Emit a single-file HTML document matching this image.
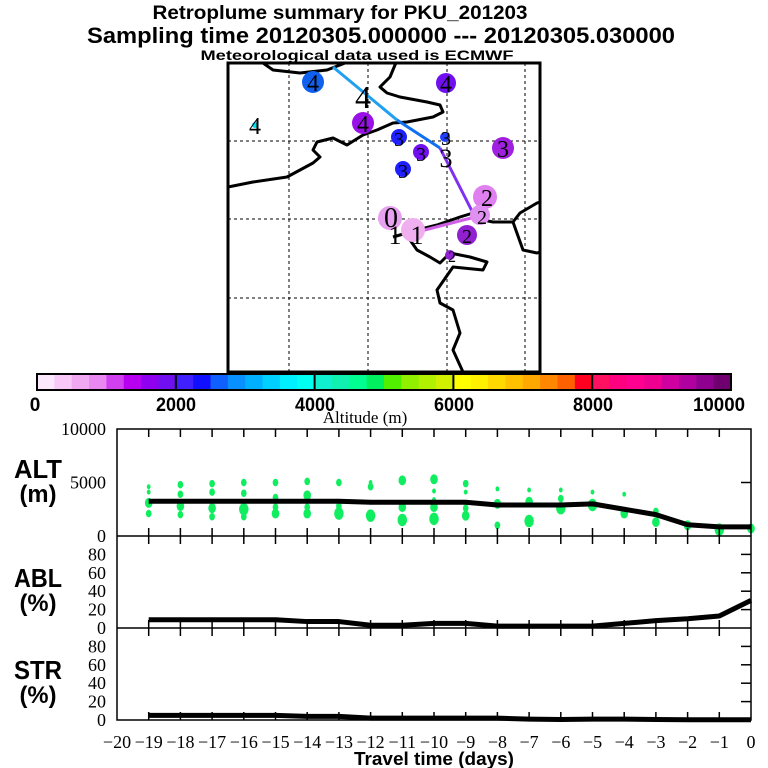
<!DOCTYPE html>
<html><head><meta charset="utf-8"><style>
html,body{margin:0;padding:0;background:#fff;}
svg{display:block;}
.t{font-family:"Liberation Sans",sans-serif;font-weight:bold;}
.s{font-family:"Liberation Serif",serif;}
</style></head><body>
<svg id="chart" width="768" height="768" viewBox="0 0 768 768" xmlns="http://www.w3.org/2000/svg">
<text class="t" x="340" y="19" font-size="19" text-anchor="middle" textLength="375" lengthAdjust="spacingAndGlyphs">Retroplume summary for PKU_201203</text>
<text class="t" x="381" y="43" font-size="22" text-anchor="middle" textLength="588" lengthAdjust="spacingAndGlyphs">Sampling time   20120305.000000 --- 20120305.030000</text>
<text class="t" x="357" y="60" font-size="14" text-anchor="middle" textLength="313" lengthAdjust="spacingAndGlyphs">Meteorological data used is ECMWF</text>

<g id="map">
<g stroke="#000" stroke-width="1" stroke-dasharray="3,3">
<line x1="289" y1="63" x2="289" y2="372"/><line x1="368" y1="63" x2="368" y2="372"/><line x1="447" y1="63" x2="447" y2="372"/><line x1="525" y1="63" x2="525" y2="372"/>
<line x1="228" y1="141" x2="540" y2="141"/><line x1="228" y1="219" x2="540" y2="219"/><line x1="228" y1="298" x2="540" y2="298"/>
</g>
<g fill="none" stroke="#000" stroke-width="3" stroke-linejoin="round">
<polyline points="263,63 273,70 300,73 327,70 340,65 345,63"/>
<polyline points="228,187 253,182 287,177 300,170 313,163 320,157 313,150 317,142 333,138 347,145 363,135 377,130 393,123 407,122 433,117 443,112 440,105 427,102 400,97 387,93 380,87 390,77 395,65 396,63"/>
<polyline points="393,237 417,230 437,225 460,217 473,213 483,220 493,222 513,222 520,213 537,203 540,202"/>
<polyline points="410,240 417,250 430,257 440,263 450,253 470,257 487,262 483,270 453,267 437,290 440,303 453,310 460,333 453,350 463,372"/>
<polyline points="513,222 523,250 537,253 540,252"/>
</g>
<g stroke-width="3" fill="none">
<line x1="333" y1="67" x2="397" y2="120" stroke="#20a0f0"/>
<line x1="397" y1="120" x2="440" y2="148" stroke="#1070f0"/>
<line x1="440" y1="148" x2="475" y2="217" stroke="#8030f0"/>
<line x1="475" y1="217" x2="413" y2="233" stroke="#d060e8"/>
</g>
<g>
<circle cx="313" cy="82" r="11" fill="#1060f0"/><circle cx="446" cy="83" r="10" fill="#7010f0"/>
<circle cx="363" cy="123" r="11" fill="#9a10e8"/><circle cx="503" cy="148" r="11" fill="#a020e0"/>
<circle cx="399" cy="137" r="8" fill="#2020ff"/><circle cx="421" cy="152" r="8" fill="#7010f0"/>
<circle cx="403" cy="169" r="8" fill="#2020ff"/><circle cx="445" cy="137" r="5" fill="#2040ff"/>
<circle cx="485" cy="197" r="12" fill="#e080f0"/><circle cx="480" cy="215" r="10" fill="#e090f0"/>
<circle cx="467" cy="235" r="10" fill="#9020d0"/><circle cx="390" cy="218" r="12" fill="#e8a0f0"/>
<circle cx="413" cy="230" r="12" fill="#f0b0f0"/><circle cx="450" cy="255" r="5" fill="#9020d0"/>
<circle cx="255" cy="125" r="3" fill="#00e0f0"/>
</g>
<g class="s" font-size="24" fill="#000" text-anchor="middle">
<text x="313" y="91">4</text><text x="446" y="92">4</text><text x="363" y="132">4</text><text x="363" y="108" font-size="32">4</text><text x="255" y="134">4</text>
<text x="399" y="146" font-size="20">3</text><text x="421" y="161" font-size="20">3</text><text x="403" y="178" font-size="20">3</text><text x="503" y="157">3</text>
<text x="446" y="145" font-size="20">3</text><text x="446" y="167" font-size="26">3</text>
<text x="487" y="206">2</text><text x="482" y="224" font-size="20">2</text><text x="467" y="243" font-size="20">2</text><text x="452" y="262" font-size="16">2</text>
<text x="391" y="227" font-size="28">0</text><text x="395" y="244" font-size="26">1</text><text x="417" y="244" font-size="26">1</text>
</g>
<rect x="228" y="63" width="312" height="309" fill="none" stroke="#000" stroke-width="3"/>
</g>

<g id="colorbar"></g>
<g class="t" font-size="19" text-anchor="middle">
<text x="35" y="411">0</text><text x="176" y="411" textLength="40" lengthAdjust="spacingAndGlyphs">2000</text><text x="315" y="411" textLength="40" lengthAdjust="spacingAndGlyphs">4000</text><text x="454" y="411" textLength="40" lengthAdjust="spacingAndGlyphs">6000</text><text x="593" y="411" textLength="40" lengthAdjust="spacingAndGlyphs">8000</text><text x="719" y="411" textLength="52" lengthAdjust="spacingAndGlyphs">10000</text>
</g>
<text class="s" x="365" y="423" font-size="17" text-anchor="middle">Altitude (m)</text>

<g id="panels"></g>

<text class="t" x="38" y="478" font-size="26" text-anchor="middle" textLength="48" lengthAdjust="spacingAndGlyphs">ALT</text>
<text class="t" x="38" y="502" font-size="24" text-anchor="middle" textLength="37" lengthAdjust="spacingAndGlyphs">(m)</text>
<text class="t" x="38" y="587" font-size="26" text-anchor="middle" textLength="48" lengthAdjust="spacingAndGlyphs">ABL</text>
<text class="t" x="38" y="611" font-size="24" text-anchor="middle" textLength="37" lengthAdjust="spacingAndGlyphs">(%)</text>
<text class="t" x="38" y="679" font-size="26" text-anchor="middle" textLength="48" lengthAdjust="spacingAndGlyphs">STR</text>
<text class="t" x="38" y="703" font-size="24" text-anchor="middle" textLength="37" lengthAdjust="spacingAndGlyphs">(%)</text>
<text class="t" x="434" y="765" font-size="18" text-anchor="middle" textLength="160" lengthAdjust="spacingAndGlyphs">Travel time (days)</text>
</svg>
<script>
const cbColors=["#fce8fc","#f8c8f8","#f0a8f0","#e888f0","#d040f0","#b800f0","#9000f0","#7010f0",
"#4020ff","#1010ff","#1060ff","#0890ff","#00b0ff","#00d0ff","#00f0ff","#00fff0",
"#10f0d0","#10f0b0","#00ff90","#00f060","#50f000","#90f000","#b0f000","#d0f000",
"#ffff00","#fff000","#ffd800","#ffc000","#ffa800","#ff8800","#ff6000","#ff0020",
"#ff1060","#ff0080","#ff0090","#f00090","#d000a0","#b000a0","#900090","#700070"];
const days=[-19,-18,-17,-16,-15,-14,-13,-12,-11,-10,-9,-8,-7,-6,-5,-4,-3,-2,-1,0];
const altMean=[3250,3250,3250,3250,3250,3250,3250,3150,3150,3150,3150,2900,2900,2900,3000,2500,2000,1050,850,850];
const ablPct=[9,9,9,9,9,7,7,3,3,5,5,2,2,2,2,5,8,10,13,30];
const strPct=[5,5,5,5,5,4,4,2,2,2,2,2,1,0.5,1,1,0.5,0.3,0.3,0.3];
const dotDay=[-19,-19,-19,-19,-18,-18,-18,-18,-17,-17,-17,-17,-16,-16,-16,-16,-15,-15,-15,-15,-14,-14,-14,-14,-13,-13,-13,-12,-12,-12,-11,-11,-11,-10,-10,-10,-10,-10,-9,-9,-9,-9,-8,-8,-8,-7,-7,-7,-6,-6,-6,-5,-5,-4,-4,-3,-3,-2,-1,0];
const dotAlt=[4600,4100,3100,2100,4800,3900,2800,2000,4900,4100,2600,1800,5000,4000,2500,1800,5000,3600,2700,2100,5100,3800,2700,2100,5000,2800,2100,5000,4600,1900,5200,2700,1500,5300,4200,3400,2700,1600,4900,4100,2600,1900,4400,3000,1000,4300,3200,1400,4300,3500,2600,4100,2900,3900,2100,2300,1300,1000,600,700];
const dotSize=[2,2,4,3,3,3,4,3,3,3,4,3,3,3,5,3,3,3,3,4,3,4,3,4,3,3,5,2,3,5,4,4,5,4,2,2,4,5,3,2,3,4,2,4,3,2,4,5,2,3,5,2,5,2,4,3,4,4,5,4];
const yTicksPct=[0,20,40,60,80];
const NS="http://www.w3.org/2000/svg";
function mk(tag,attrs,parent){const e=document.createElementNS(NS,tag);for(const k in attrs)e.setAttribute(k,attrs[k]);parent.appendChild(e);return e;}
const cb=document.getElementById('colorbar');
const cbX0=37,cbX1=731,cw=(cbX1-cbX0)/cbColors.length;
cbColors.forEach((c,i)=>{const r=mk('rect',{x:cbX0+i*cw,y:374,width:cw+0.5,height:16,fill:c},cb);

});
[2000,4000,6000,8000].forEach(v=>{const l=mk('line',{x1:cbX0+v/10000*(cbX1-cbX0),x2:cbX0+v/10000*(cbX1-cbX0),y1:374,y2:390,stroke:'#000','stroke-width':2},cb);

});
const cbf=mk('rect',{x:cbX0,y:374,width:cbX1-cbX0,height:16,fill:'none',stroke:'#000','stroke-width':2},cb);


const P=document.getElementById('panels');
const X0=117,X1=751;
const xs=d=>X0+(d+20)/20*(X1-X0);
const altTop=429,altBot=536,ablTop=536,ablBot=628,strTop=628,strBot=720;
const yAlt=v=>altBot-v/10000*(altBot-altTop);
const yAbl=v=>ablBot-v/100*(ablBot-ablTop);
const yStr=v=>strBot-v/100*(strBot-strTop);
dotDay.forEach((d,i)=>{const s=dotSize[i];const e=mk('ellipse',{cx:xs(d),cy:yAlt(dotAlt[i]),rx:s*0.95,ry:s*1.25,fill:'#10ee60'},P);

});
function line(vals,yf,name){const pts=days.map((d,i)=>xs(d)+','+yf(vals[i])).join(' ');
const pl=mk('polyline',{points:pts,fill:'none',stroke:'#000','stroke-width':5,'stroke-linejoin':'round'},P);

}
line(altMean,yAlt,'alt-mean-line');line(ablPct,yAbl,'abl-line');line(strPct,yStr,'str-line');
const fr=mk('path',{d:`M${X0},${altTop}H${X1}V${strBot}H${X0}Z M${X0},${ablTop}H${X1} M${X0},${strTop}H${X1}`,fill:'none',stroke:'#000','stroke-width':1.5},P);


for(let d=-19;d<=-1;d++){const x=xs(d);
[[altTop,altTop+8],[altBot-8,altBot+8],[ablBot-8,ablBot+8],[strBot-8,strBot]].forEach(([a,b])=>{
const t=mk('line',{x1:x,x2:x,y1:a,y2:b,stroke:'#000','stroke-width':1.5},P);

});}
for(let d=-20;d<=0;d++){const t=mk('text',{x:xs(d),y:748,'font-size':18,'text-anchor':'middle','font-family':'Liberation Serif, serif'},P);
t.textContent=(d<0?'\u2212'+(-d):'0');

}
[[10000,'10000'],[5000,'5000'],[0,'0']].forEach(([v,s])=>{const t=mk('text',{x:106,y:yAlt(v)+6,'font-size':18,'text-anchor':'end','font-family':'Liberation Serif, serif'},P);
t.textContent=s;

});
const rt=mk('line',{x1:X1-10,x2:X1,y1:yAlt(5000),y2:yAlt(5000),stroke:'#000','stroke-width':1.5},P);


[[yAbl,'abl'],[yStr,'str']].forEach(([yf,n])=>{yTicksPct.forEach(v=>{
const t=mk('text',{x:106,y:yf(v)+6,'font-size':18,'text-anchor':'end','font-family':'Liberation Serif, serif'},P);
t.textContent=String(v);


if(v>0){const l=mk('line',{x1:X1-10,x2:X1,y1:yf(v),y2:yf(v),stroke:'#000','stroke-width':1.5},P);

}});});
</script>
</body></html>
